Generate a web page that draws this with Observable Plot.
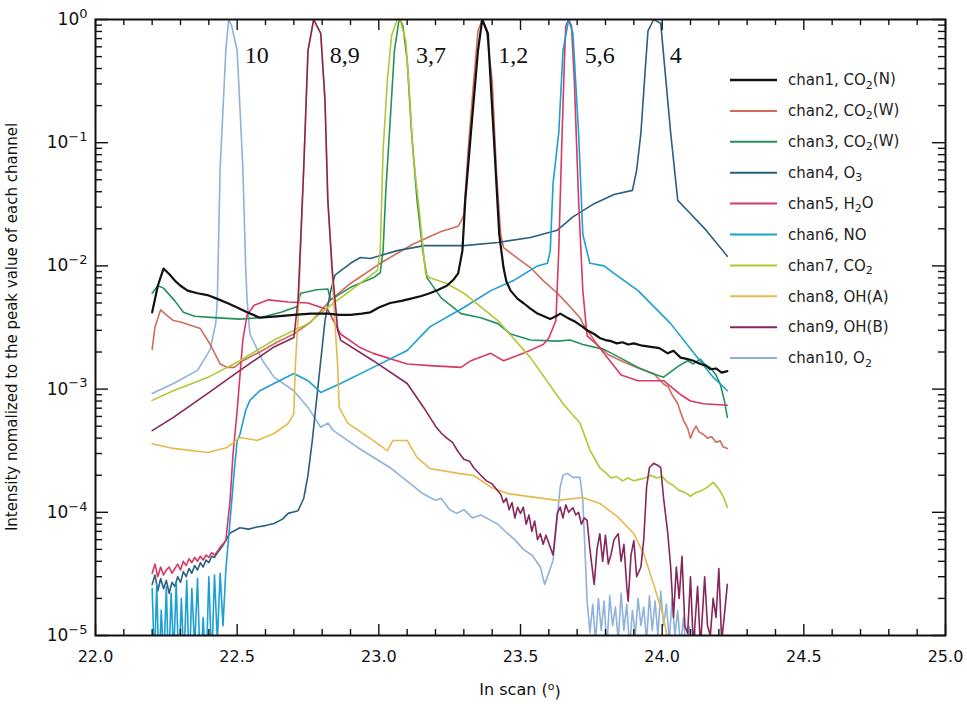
<!DOCTYPE html>
<html><head><meta charset="utf-8">
<script src="https://cdn.jsdelivr.net/npm/d3@7"></script>
<script src="https://cdn.jsdelivr.net/npm/@observablehq/plot@0.6"></script>
<style>
body{margin:0;background:#fff;}
#wrap{position:relative;width:967px;height:704px;overflow:hidden;}
#wrap svg{display:block;}
</style></head><body><div id="wrap"></div>
<script>
// ---- data: [scan angle (deg), normalized intensity] ----
const chan1 = [[22.20,4.2e-3],[22.22,6.9e-3],[22.24,9.5e-3],[22.26,8.6e-3],[22.28,7.6e-3],[22.30,6.9e-3],[22.325,6.3e-3],[22.36,6.0e-3],[22.395,5.8e-3],[22.43,5.4e-3],[22.465,5.0e-3],[22.50,4.6e-3],[22.535,4.2e-3],[22.58,3.8e-3],[22.64,3.9e-3],[22.70,4.0e-3],[22.76,4.1e-3],[22.82,4.1e-3],[22.86,4.0e-3],[22.90,4.0e-3],[22.94,4.1e-3],[22.97,4.2e-3],[23.00,4.6e-3],[23.04,5.0e-3],[23.08,5.2e-3],[23.11,5.4e-3],[23.15,5.7e-3],[23.18,6.0e-3],[23.21,6.4e-3],[23.24,6.9e-3],[23.265,7.8e-3],[23.28,8.7e-3],[23.295,1.33e-2],[23.305,3.4e-2],[23.325,0.12],[23.35,0.56],[23.365,1.0],[23.385,0.77],[23.405,0.12],[23.425,1.8e-2],[23.44,9.7e-3],[23.45,7.5e-3],[23.465,6.3e-3],[23.49,5.4e-3],[23.51,5.0e-3],[23.535,4.5e-3],[23.56,4.1e-3],[23.605,3.7e-3],[23.625,3.9e-3],[23.64,4.1e-3],[23.665,3.8e-3],[23.695,3.5e-3],[23.72,3.2e-3],[23.735,3.0e-3],[23.76,2.8e-3],[23.78,2.6e-3],[23.80,2.5e-3],[23.82,2.45e-3],[23.84,2.35e-3],[23.86,2.4e-3],[23.88,2.3e-3],[23.90,2.35e-3],[23.93,2.25e-3],[23.96,2.2e-3],[23.99,2.15e-3],[24.02,1.95e-3],[24.04,2.05e-3],[24.065,1.8e-3],[24.09,1.75e-3],[24.11,1.7e-3],[24.135,1.6e-3],[24.155,1.55e-3],[24.17,1.45e-3],[24.19,1.47e-3],[24.21,1.36e-3],[24.23,1.4e-3]];
const chan2 = [[22.20,2.1e-3],[22.21,3.2e-3],[22.23,4.4e-3],[22.25,4.0e-3],[22.275,3.6e-3],[22.30,3.5e-3],[22.335,3.3e-3],[22.37,3.1e-3],[22.405,2.3e-3],[22.44,1.6e-3],[22.465,1.5e-3],[22.49,1.5e-3],[22.52,1.7e-3],[22.58,2.0e-3],[22.64,2.4e-3],[22.70,2.8e-3],[22.76,3.5e-3],[22.83,5.3e-3],[22.90,7.2e-3],[23.005,1.05e-2],[23.12,1.5e-2],[23.22,1.9e-2],[23.28,2.1e-2],[23.29,2.3e-2],[23.30,2.6e-2],[23.315,8.6e-2],[23.335,0.32],[23.35,0.81],[23.365,1.0],[23.38,0.81],[23.40,0.32],[23.415,5.9e-2],[23.43,1.8e-2],[23.44,1.41e-2],[23.49,1.15e-2],[23.535,9.7e-3],[23.58,7.6e-3],[23.63,6.0e-3],[23.67,4.8e-3],[23.71,3.8e-3],[23.72,3.4e-3],[23.745,2.8e-3],[23.77,2.3e-3],[23.81,1.9e-3],[23.855,1.7e-3],[23.91,1.5e-3],[23.97,1.34e-3],[24.005,1.1e-3],[24.02,1.05e-3],[24.035,9.0e-4],[24.055,7.6e-4],[24.065,6.5e-4],[24.075,5.6e-4],[24.09,4.8e-4],[24.10,4.0e-4],[24.11,4.6e-4],[24.12,5.0e-4],[24.13,4.5e-4],[24.145,4.3e-4],[24.16,4.0e-4],[24.175,4.1e-4],[24.19,3.7e-4],[24.205,3.8e-4],[24.215,3.4e-4],[24.23,3.3e-4]];
const chan3 = [[22.20,6.0e-3],[22.22,6.9e-3],[22.24,6.6e-3],[22.28,5.2e-3],[22.31,4.2e-3],[22.35,3.9e-3],[22.42,3.8e-3],[22.51,3.7e-3],[22.58,3.8e-3],[22.655,4.2e-3],[22.715,4.7e-3],[22.72,5.6e-3],[22.725,6.0e-3],[22.78,6.4e-3],[22.82,6.5e-3],[22.83,5.3e-3],[22.90,6.7e-3],[22.98,8.0e-3],[23.005,8.8e-3],[23.015,1.33e-2],[23.025,4.2e-2],[23.04,0.15],[23.055,0.56],[23.07,0.95],[23.075,1.0],[23.085,0.89],[23.10,0.465],[23.115,0.126],[23.135,3.4e-2],[23.155,1.33e-2],[23.17,8.0e-3],[23.22,5.5e-3],[23.29,4.1e-3],[23.36,3.8e-3],[23.42,3.4e-3],[23.465,2.8e-3],[23.535,2.5e-3],[23.63,2.45e-3],[23.675,2.5e-3],[23.72,2.3e-3],[23.795,2.1e-3],[23.85,1.8e-3],[23.915,1.5e-3],[23.96,1.35e-3],[24.005,1.25e-3],[24.03,1.38e-3],[24.06,1.55e-3],[24.09,1.7e-3],[24.11,1.6e-3],[24.135,1.75e-3],[24.155,1.55e-3],[24.17,1.5e-3],[24.19,1.3e-3],[24.205,1.1e-3],[24.22,8.0e-4],[24.23,5.9e-4]];
const chan4 = [[22.20,2.6e-5],[22.21,3.1e-5],[22.22,2.3e-5],[22.23,2.9e-5],[22.24,2.4e-5],[22.25,2.8e-5],[22.26,2.2e-5],[22.27,2.7e-5],[22.28,2.5e-5],[22.29,3.0e-5],[22.30,2.7e-5],[22.31,3.3e-5],[22.32,3.0e-5],[22.33,3.5e-5],[22.34,3.2e-5],[22.35,3.7e-5],[22.36,3.4e-5],[22.37,3.9e-5],[22.38,3.6e-5],[22.39,4.1e-5],[22.40,3.9e-5],[22.41,4.4e-5],[22.42,4.3e-5],[22.425,4.5e-5],[22.45,5.4e-5],[22.475,6.8e-5],[22.51,7.5e-5],[22.54,7.3e-5],[22.57,7.6e-5],[22.60,7.8e-5],[22.63,8.1e-5],[22.66,8.8e-5],[22.68,9.8e-5],[22.715,1.03e-4],[22.735,1.3e-4],[22.75,2.0e-4],[22.765,3.8e-4],[22.78,8.1e-4],[22.795,1.7e-3],[22.81,3.6e-3],[22.83,6.3e-3],[22.845,8.4e-3],[22.90,1.05e-2],[22.935,1.17e-2],[22.97,1.15e-2],[23.065,1.33e-2],[23.16,1.46e-2],[23.30,1.46e-2],[23.42,1.55e-2],[23.535,1.7e-2],[23.63,1.95e-2],[23.685,2.5e-2],[23.76,3.2e-2],[23.83,3.8e-2],[23.895,4.1e-2],[23.91,6.0e-2],[23.925,0.12],[23.94,0.385],[23.95,0.81],[23.97,1.0],[23.995,0.93],[24.01,0.385],[24.03,0.12],[24.055,3.4e-2],[24.09,2.8e-2],[24.155,1.95e-2],[24.23,1.2e-2]];
const chan5 = [[22.20,3.2e-5],[22.21,3.8e-5],[22.22,3.0e-5],[22.23,3.6e-5],[22.24,3.1e-5],[22.25,3.4e-5],[22.26,3.6e-5],[22.27,3.2e-5],[22.28,3.5e-5],[22.29,3.8e-5],[22.30,3.4e-5],[22.31,4.0e-5],[22.32,3.7e-5],[22.33,4.2e-5],[22.34,3.9e-5],[22.35,4.3e-5],[22.36,4.0e-5],[22.37,4.4e-5],[22.38,4.1e-5],[22.39,4.5e-5],[22.40,4.3e-5],[22.41,4.7e-5],[22.42,4.5e-5],[22.43,4.8e-5],[22.44,5.2e-5],[22.46,5.9e-5],[22.475,1.25e-4],[22.485,2.9e-4],[22.50,6.7e-4],[22.51,1.3e-3],[22.52,2.5e-3],[22.535,4.0e-3],[22.56,4.8e-3],[22.61,5.3e-3],[22.68,5.1e-3],[22.75,5.0e-3],[22.82,4.4e-3],[22.865,2.8e-3],[22.93,2.2e-3],[22.98,1.95e-3],[23.10,1.6e-3],[23.18,1.55e-3],[23.29,1.5e-3],[23.325,1.7e-3],[23.395,1.95e-3],[23.44,1.7e-3],[23.51,1.95e-3],[23.58,2.3e-3],[23.60,2.6e-3],[23.625,3.6e-3],[23.635,1.33e-2],[23.645,8.6e-2],[23.655,0.465],[23.66,0.89],[23.67,1.0],[23.68,0.89],[23.69,0.32],[23.705,3.4e-2],[23.72,6.3e-3],[23.735,2.7e-3],[23.77,2.3e-3],[23.855,1.3e-3],[23.915,1.17e-3],[24.005,1.17e-3],[24.065,9.0e-4],[24.10,8.0e-4],[24.145,7.6e-4],[24.23,7.4e-4]];
const chan6 = [[22.200,2.4e-5],[22.208,6e-6],[22.216,2.6e-5],[22.224,5e-6],[22.232,1.6e-5],[22.241,6e-6],[22.25,2.5e-5],[22.258,5e-6],[22.267,2.2e-5],[22.276,7e-6],[22.285,2.7e-5],[22.294,5e-6],[22.303,2.0e-5],[22.312,6e-6],[22.322,2.8e-5],[22.331,5e-6],[22.34,2.4e-5],[22.35,8e-6],[22.36,2.9e-5],[22.37,5e-6],[22.38,1.4e-5],[22.39,5e-6],[22.40,3.0e-5],[22.41,6e-6],[22.42,3.1e-5],[22.43,9e-6],[22.44,3.2e-5],[22.45,1.2e-5],[22.46,3.4e-5],[22.475,8.6e-5],[22.49,2.2e-4],[22.50,3.8e-4],[22.51,4.3e-4],[22.53,6.7e-4],[22.545,8.1e-4],[22.58,9.7e-4],[22.63,1.11e-3],[22.70,1.34e-3],[22.75,1.17e-3],[22.795,9.4e-4],[22.865,1.11e-3],[22.98,1.5e-3],[23.10,2.06e-3],[23.18,3.2e-3],[23.30,4.6e-3],[23.395,6.3e-3],[23.475,7.6e-3],[23.56,1.0e-2],[23.595,1.05e-2],[23.605,1.33e-2],[23.615,4.7e-2],[23.635,0.12],[23.65,0.56],[23.67,1.0],[23.685,0.77],[23.705,0.12],[23.72,1.8e-2],[23.745,1.05e-2],[23.795,1.0e-2],[23.83,8.7e-3],[23.915,6.3e-3],[24.03,3.4e-3],[24.125,1.8e-3],[24.18,1.25e-3],[24.23,9.7e-4]];
const chan7 = [[22.20,8.1e-4],[22.275,9.7e-4],[22.395,1.24e-3],[22.51,1.7e-3],[22.63,2.5e-3],[22.75,3.4e-3],[22.82,4.6e-3],[22.90,6.3e-3],[22.995,9.2e-3],[23.005,1.33e-2],[23.015,8.6e-2],[23.03,0.32],[23.045,0.74],[23.065,1.0],[23.075,1.0],[23.095,0.675],[23.11,0.22],[23.12,8.6e-2],[23.145,2.5e-2],[23.165,8.7e-3],[23.18,8.0e-3],[23.24,7.2e-3],[23.30,6.0e-3],[23.42,3.6e-3],[23.535,1.8e-3],[23.65,7.6e-4],[23.71,5.3e-4],[23.745,3.2e-4],[23.78,2.3e-4],[23.80,2.1e-4],[23.82,1.9e-4],[23.84,1.95e-4],[23.86,1.8e-4],[23.88,1.9e-4],[23.90,1.8e-4],[23.92,1.85e-4],[23.94,1.9e-4],[23.96,2.0e-4],[23.98,1.9e-4],[24.00,1.95e-4],[24.02,1.75e-4],[24.04,1.65e-4],[24.06,1.5e-4],[24.08,1.45e-4],[24.10,1.35e-4],[24.12,1.45e-4],[24.14,1.5e-4],[24.16,1.6e-4],[24.18,1.75e-4],[24.20,1.55e-4],[24.215,1.35e-4],[24.23,1.1e-4]];
const chan8 = [[22.20,3.6e-4],[22.275,3.3e-4],[22.395,3.06e-4],[22.465,3.36e-4],[22.51,4.05e-4],[22.57,3.83e-4],[22.63,4.36e-4],[22.68,5.26e-4],[22.70,6.3e-4],[22.705,1.5e-3],[22.715,3.8e-3],[22.735,6.3e-2],[22.75,0.56],[22.77,1.0],[22.795,0.77],[22.81,0.22],[22.82,3.4e-2],[22.83,1.4e-2],[22.84,5.3e-3],[22.855,1.5e-3],[22.86,7.1e-4],[22.89,5.3e-4],[22.98,3.83e-4],[23.03,3.17e-4],[23.05,3.83e-4],[23.10,3.83e-4],[23.135,2.78e-4],[23.18,2.27e-4],[23.28,2.07e-4],[23.335,1.99e-4],[23.395,1.6e-4],[23.455,1.42e-4],[23.63,1.25e-4],[23.72,1.32e-4],[23.78,1.18e-4],[23.845,9.1e-5],[23.90,6.7e-5],[23.935,4.6e-5],[23.97,2.6e-5],[24.005,1.4e-5],[24.02,9e-6]];
const chan9 = [[22.20,4.6e-4],[22.275,5.9e-4],[22.395,9.2e-4],[22.51,1.42e-3],[22.63,2.2e-3],[22.70,2.62e-3],[22.715,5.3e-3],[22.735,6.3e-2],[22.75,0.56],[22.77,1.0],[22.795,0.77],[22.81,0.22],[22.82,3.4e-2],[22.835,9.7e-3],[22.855,3.0e-3],[22.865,2.5e-3],[22.98,1.7e-3],[23.10,1.11e-3],[23.16,7.0e-4],[23.20,5.0e-4],[23.22,4.4e-4],[23.24,4.0e-4],[23.26,3.7e-4],[23.28,3.1e-4],[23.30,2.7e-4],[23.32,2.6e-4],[23.335,2.3e-4],[23.36,2.0e-4],[23.38,1.8e-4],[23.40,1.7e-4],[23.43,1.4e-4],[23.44,1.2e-4],[23.45,1.3e-4],[23.46,1.05e-4],[23.47,1.2e-4],[23.48,9e-5],[23.49,1.1e-4],[23.50,9.8e-5],[23.51,1.1e-4],[23.52,8e-5],[23.53,9.5e-5],[23.54,7e-5],[23.55,8.5e-5],[23.56,6e-5],[23.57,6.7e-5],[23.58,5.5e-5],[23.59,6.5e-5],[23.605,5.2e-5],[23.615,4.5e-5],[23.63,9.8e-5],[23.64,1.1e-4],[23.65,9e-5],[23.66,1.15e-4],[23.67,1.0e-4],[23.685,1.09e-4],[23.695,9.5e-5],[23.705,1.0e-4],[23.715,8e-5],[23.725,9e-5],[23.735,8.6e-5],[23.745,5e-5],[23.76,2.6e-5],[23.77,5e-5],[23.78,6.7e-5],[23.79,4e-5],[23.80,6.5e-5],[23.81,3.8e-5],[23.82,4.6e-5],[23.83,6e-5],[23.845,6.7e-5],[23.855,4e-5],[23.865,5.5e-5],[23.875,2.5e-5],[23.88,1.9e-5],[23.89,4.5e-5],[23.90,5.9e-5],[23.91,3e-5],[23.925,3.6e-5],[23.935,6e-5],[23.945,1.6e-4],[23.955,2.3e-4],[23.97,2.5e-4],[23.985,2.4e-4],[23.995,2.3e-4],[24.005,1.3e-4],[24.02,6.7e-5],[24.03,3.6e-5],[24.04,1.4e-5],[24.05,3.6e-5],[24.06,2e-5],[24.07,4.4e-5],[24.08,1.2e-5],[24.09,1.04e-5],[24.10,3e-5],[24.11,8e-6],[24.125,2.5e-5],[24.135,8e-6],[24.15,3e-5],[24.16,1.2e-5],[24.17,1.0e-5],[24.18,2e-5],[24.19,1.4e-5],[24.20,3.5e-5],[24.21,9e-6],[24.22,1.5e-5],[24.23,2.6e-5]];
const chan10 = [[22.20,9.2e-4],[22.275,1.11e-3],[22.36,1.42e-3],[22.405,2.1e-3],[22.425,3.5e-3],[22.43,5.3e-3],[22.44,6.3e-2],[22.46,0.56],[22.47,1.0],[22.48,0.9],[22.50,0.56],[22.52,6.3e-2],[22.53,9.7e-3],[22.535,5.3e-3],[22.545,2.8e-3],[22.59,1.7e-3],[22.63,1.25e-3],[22.70,9.7e-4],[22.75,7.1e-4],[22.795,4.9e-4],[22.82,5.3e-4],[22.84,4.6e-4],[22.925,3.36e-4],[23.04,2.3e-4],[23.155,1.42e-4],[23.20,1.25e-4],[23.22,1.3e-4],[23.25,1.05e-4],[23.275,9.8e-5],[23.30,1.05e-4],[23.33,9e-5],[23.36,9.5e-5],[23.395,8.6e-5],[23.42,8.0e-5],[23.455,6.7e-5],[23.48,6.0e-5],[23.51,5.0e-5],[23.54,4.5e-5],[23.57,3.6e-5],[23.585,2.6e-5],[23.595,3.0e-5],[23.615,4.07e-5],[23.64,1.6e-4],[23.65,2.0e-4],[23.665,2.07e-4],[23.685,1.92e-4],[23.71,1.92e-4],[23.72,1.25e-4],[23.735,1.93e-5],[23.745,1.05e-5],[23.755,1.8e-5],[23.765,9e-6],[23.775,2.0e-5],[23.785,1.1e-5],[23.795,1.9e-5],[23.805,8e-6],[23.815,2.1e-5],[23.825,1.2e-5],[23.835,1.7e-5],[23.845,9e-6],[23.855,2.2e-5],[23.865,1.1e-5],[23.875,1.8e-5],[23.885,8e-6],[23.895,1.6e-5],[23.905,1.0e-5],[23.915,2.0e-5],[23.925,1.2e-5],[23.935,1.7e-5],[23.945,9e-6],[23.955,2.1e-5],[23.965,1.1e-5],[23.975,1.9e-5],[23.985,1.0e-5],[23.995,2.3e-5],[24.005,1.2e-5],[24.015,1.8e-5],[24.025,9e-6],[24.035,2.0e-5],[24.045,1.0e-5],[24.055,1.6e-5],[24.065,8e-6],[24.075,1.4e-5],[24.085,7e-6],[24.095,1.2e-5],[24.105,6e-6],[24.115,1.1e-5],[24.13,5e-6]];

const channelNames = ["chan1","chan2","chan3","chan4","chan5","chan6","chan7","chan8","chan9","chan10"];
const species = [["CO","2","(N)"],["CO","2","(W)"],["CO","2","(W)"],["O","3",""],["H","2","O"],["NO","",""],["CO","2",""],["OH(A)","",""],["OH(B)","",""],["O","2",""]];
const colors = ["#111111","#d46a5c","#24915a","#2a5f80","#d63a62","#1c9fd2","#b2c733","#e6b94c","#86265a","#8fb2da"];
const widths = [2.2,1.6,1.6,1.6,1.6,1.6,1.6,1.6,1.6,1.6];
const channels = [chan1,chan2,chan3,chan4,chan5,chan6,chan7,chan8,chan9,chan10];
const drawOrder = [9,1,2,3,4,5,6,7,8,0];

const peakLabels = [{x:22.47,label:"10"},{x:22.77,label:"8,9"},{x:23.075,label:"3,7"},{x:23.365,label:"1,2"},{x:23.67,label:"5,6"},{x:23.97,label:"4"}];

const xMajor = [22.0,22.5,23.0,23.5,24.0,24.5,25.0];
const xMinor = [22.1,22.2,22.3,22.4,22.6,22.7,22.8,22.9,23.1,23.2,23.3,23.4,23.6,23.7,23.8,23.9,24.1,24.2,24.3,24.4,24.6,24.7,24.8,24.9];
const yMajor = [1e-5,1e-4,1e-3,1e-2,1e-1,1];
const yExponent = ["\u22125","\u22124","\u22123","\u22122","\u22121","0"];
const yMinor = [2e-5,3e-5,4e-5,5e-5,6e-5,7e-5,8e-5,9e-5,2e-4,3e-4,4e-4,5e-4,6e-4,7e-4,8e-4,9e-4,2e-3,3e-3,4e-3,5e-3,6e-3,7e-3,8e-3,9e-3,2e-2,3e-2,4e-2,5e-2,6e-2,7e-2,8e-2,9e-2,0.2,0.3,0.4,0.5,0.6,0.7,0.8,0.9];

const xTitle = "In scan";
const yTitle = "Intensity nomalized to the peak value of each channel";

// ---- layout ----
const W = 967, H = 704, mL = 95, mR = 22, mT = 19, mB = 69;
const iW = W - mL - mR, iH = H - mT - mB;

const expMap = new Map(yMajor.map((v,i)=>[v, yExponent[i]]));

const lineMarks = drawOrder.map(i =>
  Plot.line(channels[i], {x: d=>d[0], y: d=>d[1], stroke: colors[i], strokeWidth: widths[i], clip: true, strokeLinejoin:"round"}));

const plot = Plot.plot({
  width: W, height: H,
  marginLeft: mL, marginRight: mR, marginTop: mT, marginBottom: mB,
  style: {background:"#fff", fontFamily:"'DejaVu Sans', sans-serif", fontSize:"16px", color:"#111"},
  x: {domain:[22,25], axis:null},
  y: {type:"log", domain:[1e-5,1], axis:null},
  marks: [
    ...lineMarks,
    Plot.tickX(xMajor, {x:d=>d, insetTop: iH-11, stroke:"#111", strokeWidth:1.4}),
    Plot.tickX(xMajor, {x:d=>d, insetBottom: iH-11, stroke:"#111", strokeWidth:1.4}),
    Plot.tickX(xMinor, {x:d=>d, insetTop: iH-6, stroke:"#111", strokeWidth:1.4}),
    Plot.tickX(xMinor, {x:d=>d, insetBottom: iH-6, stroke:"#111", strokeWidth:1.4}),
    Plot.tickY(yMajor, {y:d=>d, insetRight: iW-13, stroke:"#111", strokeWidth:1.4}),
    Plot.tickY(yMajor, {y:d=>d, insetLeft: iW-13, stroke:"#111", strokeWidth:1.4}),
    Plot.tickY(yMinor, {y:d=>d, insetRight: iW-7, stroke:"#111", strokeWidth:1.4}),
    Plot.tickY(yMinor, {y:d=>d, insetLeft: iW-7, stroke:"#111", strokeWidth:1.4}),
    Plot.frame({stroke:"#111", strokeWidth:2}),
    Plot.axisX(xMajor, {anchor:"bottom", tickSize:0, tickPadding:15, tickFormat:d3.format(".1f"), label:null, fontSize:16}),
    Plot.axisY(yMajor, {anchor:"left", tickSize:0, tickPadding:8, tickFormat:d=>"10|"+expMap.get(d), label:null, fontSize:17}),
    Plot.text(peakLabels, {x:"x", text:"label", frameAnchor:"top", dy:26, dx:16, textAnchor:"start", fontFamily:"'Liberation Serif', serif", fontSize:24, fill:"#111"})
  ]
});

// superscript exponents on y tick labels
plot.querySelectorAll('g[aria-label="y-axis tick label"] text').forEach(t => {
  const [base, ex] = t.textContent.split("|");
  t.textContent = "";
  const ns = "http://www.w3.org/2000/svg";
  const a = document.createElementNS(ns, "tspan"); a.textContent = base; t.appendChild(a);
  const b = document.createElementNS(ns, "tspan"); b.textContent = ex;
  b.setAttribute("dy","-0.55em"); b.setAttribute("font-size","13"); t.appendChild(b);
});

const wrap = document.getElementById("wrap");
wrap.appendChild(plot);

// overlay: legend and axis titles
const ov = d3.select(wrap).append("svg")
  .attr("width", W).attr("height", H)
  .style("position","absolute").style("left","0px").style("top","0px")
  .style("font-family","'DejaVu Sans', sans-serif");

const rows = ov.append("g").selectAll("g").data(channelNames).join("g")
  .attr("transform",(d,i)=>`translate(730,${80 + i*30.9})`);
rows.append("line").attr("x1",0).attr("x2",47).attr("y1",0).attr("y2",0)
  .attr("stroke",(d,i)=>colors[i]).attr("stroke-width",(d,i)=>i===0?2.4:2);
const lt = rows.append("text").attr("x",58).attr("y",0).attr("dy","0.35em")
  .attr("font-size",15).attr("fill","#222");
lt.append("tspan").text((d,i)=>d + ", " + species[i][0]);
lt.append("tspan").attr("dy","0.3em").attr("font-size",11).text((d,i)=>species[i][1]);
lt.append("tspan").attr("dy",(d,i)=>species[i][1] ? "-0.3em" : "0").text((d,i)=>species[i][2]);

const xt = ov.append("text").attr("x", mL + iW/2).attr("y", 695).attr("text-anchor","middle")
  .attr("font-size",16).attr("fill","#111");
xt.append("tspan").text(xTitle + " (");
xt.append("tspan").attr("dy","-0.45em").attr("font-size",11).text("o");
xt.append("tspan").attr("dy","0.45em").text(")");

ov.append("text").attr("transform",`translate(17,${mT + iH/2}) rotate(-90)`)
  .attr("text-anchor","middle").attr("font-size",15).attr("fill","#111").text(yTitle);
</script></body></html>
